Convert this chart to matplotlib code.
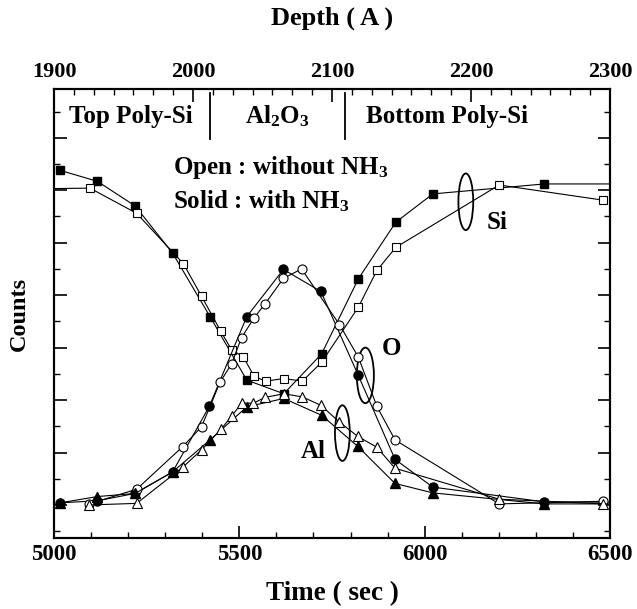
import matplotlib
matplotlib.use("Agg")
import matplotlib.pyplot as plt
from matplotlib.patches import Ellipse
from matplotlib.ticker import MultipleLocator, AutoMinorLocator, NullFormatter

# ---------------- data ----------------
t_solid = [5016, 5117, 5219, 5320, 5421, 5520, 5620, 5722, 5821, 5922, 6022, 6323, 6550]
si_solid = [6.38, 6.17, 5.70, 4.80, 3.59, 2.38, 2.12, 2.88, 4.31, 5.39, 5.93, 6.12, 6.12]

t_si_open = [4980, 5097, 5223, 5349, 5398, 5450, 5479, 5511, 5540, 5571, 5620, 5670, 5722, 5821, 5871, 5922, 6201, 6482]
si_open = [6.03, 6.04, 5.56, 4.60, 3.98, 3.31, 2.96, 2.82, 2.45, 2.36, 2.41, 2.36, 2.72, 3.77, 4.47, 4.91, 6.10, 5.81]

t_o_solid = [5016, 5117, 5219, 5320, 5419, 5520, 5619, 5720, 5821, 5920, 6022, 6322, 6550]
o_solid = [0.04, 0.08, 0.22, 0.63, 1.88, 3.59, 4.49, 4.07, 2.47, 0.87, 0.34, 0.06, 0.05]

t_o_open = [5095, 5223, 5347, 5398, 5448, 5479, 5506, 5540, 5569, 5619, 5668, 5770, 5821, 5871, 5920, 6201, 6482]
o_open = [0.02, 0.30, 1.11, 1.49, 2.34, 2.69, 3.19, 3.57, 3.83, 4.32, 4.50, 3.44, 2.82, 1.88, 1.24, 0.02, 0.07]

t_al_solid = [5016, 5117, 5219, 5320, 5421, 5520, 5620, 5722, 5819, 5920, 6022, 6322, 6550]
al_solid = [0.04, 0.16, 0.22, 0.63, 1.24, 1.87, 2.03, 1.71, 1.12, 0.41, 0.23, 0.02, 0.02]

t_al_open = [5095, 5223, 5349, 5398, 5450, 5479, 5506, 5538, 5569, 5620, 5670, 5720, 5770, 5819, 5871, 5920, 6201, 6482]
al_open = [0.00, 0.03, 0.73, 1.05, 1.44, 1.69, 1.94, 1.94, 2.05, 2.12, 2.06, 1.90, 1.58, 1.31, 1.10, 0.70, 0.11, 0.02]

time_ticks = [5000, 5500, 6000, 6500]
depth_ticks = [1900, 2000, 2100, 2200, 2300]
region_labels = ["Top Poly-Si", "Al$_2$O$_3$", "Bottom Poly-Si"]
# -----------------------------------------------------------

plt.rcParams['font.family'] = ['Liberation Serif', 'DejaVu Serif']
plt.rcParams['font.weight'] = 'bold'
plt.rcParams['mathtext.fontset'] = 'custom'
plt.rcParams['mathtext.rm'] = 'Liberation Serif:bold'
plt.rcParams['mathtext.bf'] = 'Liberation Serif:bold'
plt.rcParams['mathtext.it'] = 'Liberation Serif:bold'
plt.rcParams['mathtext.default'] = 'bf'

fig = plt.figure(figsize=(6.37, 6.09), dpi=100)
ax = fig.add_axes([54/637, 1-538/609, (610-54)/637, (538-89)/609])

lw = 0.8
ms = 6
common = dict(color='black', lw=lw, clip_on=True)
ax.plot(t_solid, si_solid, marker='s', ms=ms, mfc='black', mec='black', **common)
ax.plot(t_si_open, si_open, marker='s', ms=ms, mfc='white', mec='black', mew=0.8, **common)
ax.plot(t_o_solid, o_solid, marker='o', ms=ms+0.5, mfc='black', mec='black', **common)
ax.plot(t_o_open, o_open, marker='o', ms=ms+0.5, mfc='white', mec='black', mew=0.8, **common)
ax.plot(t_al_solid, al_solid, marker='^', ms=ms+1, mfc='black', mec='black', **common)
ax.plot(t_al_open, al_open, marker='^', ms=ms+1, mfc='white', mec='black', mew=0.8, **common)

ax.set_xlim(5000, 6500)
ax.set_ylim(-0.63, 7.93)

ax.set_xticks(time_ticks)
ax.xaxis.set_minor_locator(MultipleLocator(100))
ax.yaxis.set_major_locator(MultipleLocator(1))
ax.yaxis.set_minor_locator(MultipleLocator(0.5))
ax.yaxis.set_major_formatter(NullFormatter())
ax.tick_params(axis='both', which='both', direction='in')
ax.tick_params(axis='x', which='major', length=9, width=1.2, labelsize=16.5, pad=4)
ax.tick_params(axis='x', which='minor', length=4.5, width=1.0)
ax.tick_params(axis='y', which='major', length=9, width=1.2, left=True, right=True)
ax.tick_params(axis='y', which='minor', length=4.5, width=1.0, left=True, right=True)
for lab in ax.get_xticklabels():
    lab.set_fontweight('bold')

for s in ax.spines.values():
    s.set_linewidth(1.5)

ax.set_xlabel("Time ( sec )", fontsize=19.5, fontweight='bold', labelpad=12)
ax.set_ylabel("Counts", fontsize=17.5, fontweight='bold', labelpad=14)

# top axis
ax2 = ax.twiny()
ax2.set_xlim(1900, 2300)
ax2.set_xticks(depth_ticks)
ax2.xaxis.set_minor_locator(AutoMinorLocator(7))
ax2.tick_params(axis='x', which='both', direction='in')
ax2.tick_params(axis='x', which='major', length=9, width=1.2, labelsize=16, pad=5)
ax2.tick_params(axis='x', which='minor', length=4.5, width=1.0)
ax2.set_xlabel("Depth ( A )", fontsize=19, fontweight='bold', labelpad=27)
for s in ax2.spines.values():
    s.set_linewidth(1.5)

# region dividers and labels
for tx in [5421, 5785]:
    ax.plot([tx, tx], [7.85, 6.98], color='black', lw=1.3)
fs = 18
ax.text(5207, 7.41, region_labels[0], ha='center', va='center', fontsize=fs, fontweight='bold')
ax.text(5602, 7.41, region_labels[1], ha='center', va='center', fontsize=fs, fontweight='bold')
ax.text(6060, 7.41, region_labels[2], ha='center', va='center', fontsize=fs, fontweight='bold')
ax.text(5321, 6.43, "Open : without NH$_3$", ha='left', va='center', fontsize=fs, fontweight='bold')
ax.text(5321, 5.80, "Solid : with NH$_3$", ha='left', va='center', fontsize=fs, fontweight='bold')

# ellipses and element labels
for (cx, cy, w, h) in [(6111, 5.78, 40, 1.08), (5840, 2.47, 46, 1.06), (5778, 1.37, 40, 1.06)]:
    ax.add_patch(Ellipse((cx, cy), w, h, fill=False, ec='black', lw=1.3))
ax.text(6194, 5.39, "Si", ha='center', va='center', fontsize=fs, fontweight='bold')
ax.text(5911, 2.98, "O", ha='center', va='center', fontsize=fs, fontweight='bold')
ax.text(5700, 1.01, "Al", ha='center', va='center', fontsize=fs, fontweight='bold')

fig.savefig("out.png", dpi=100)
